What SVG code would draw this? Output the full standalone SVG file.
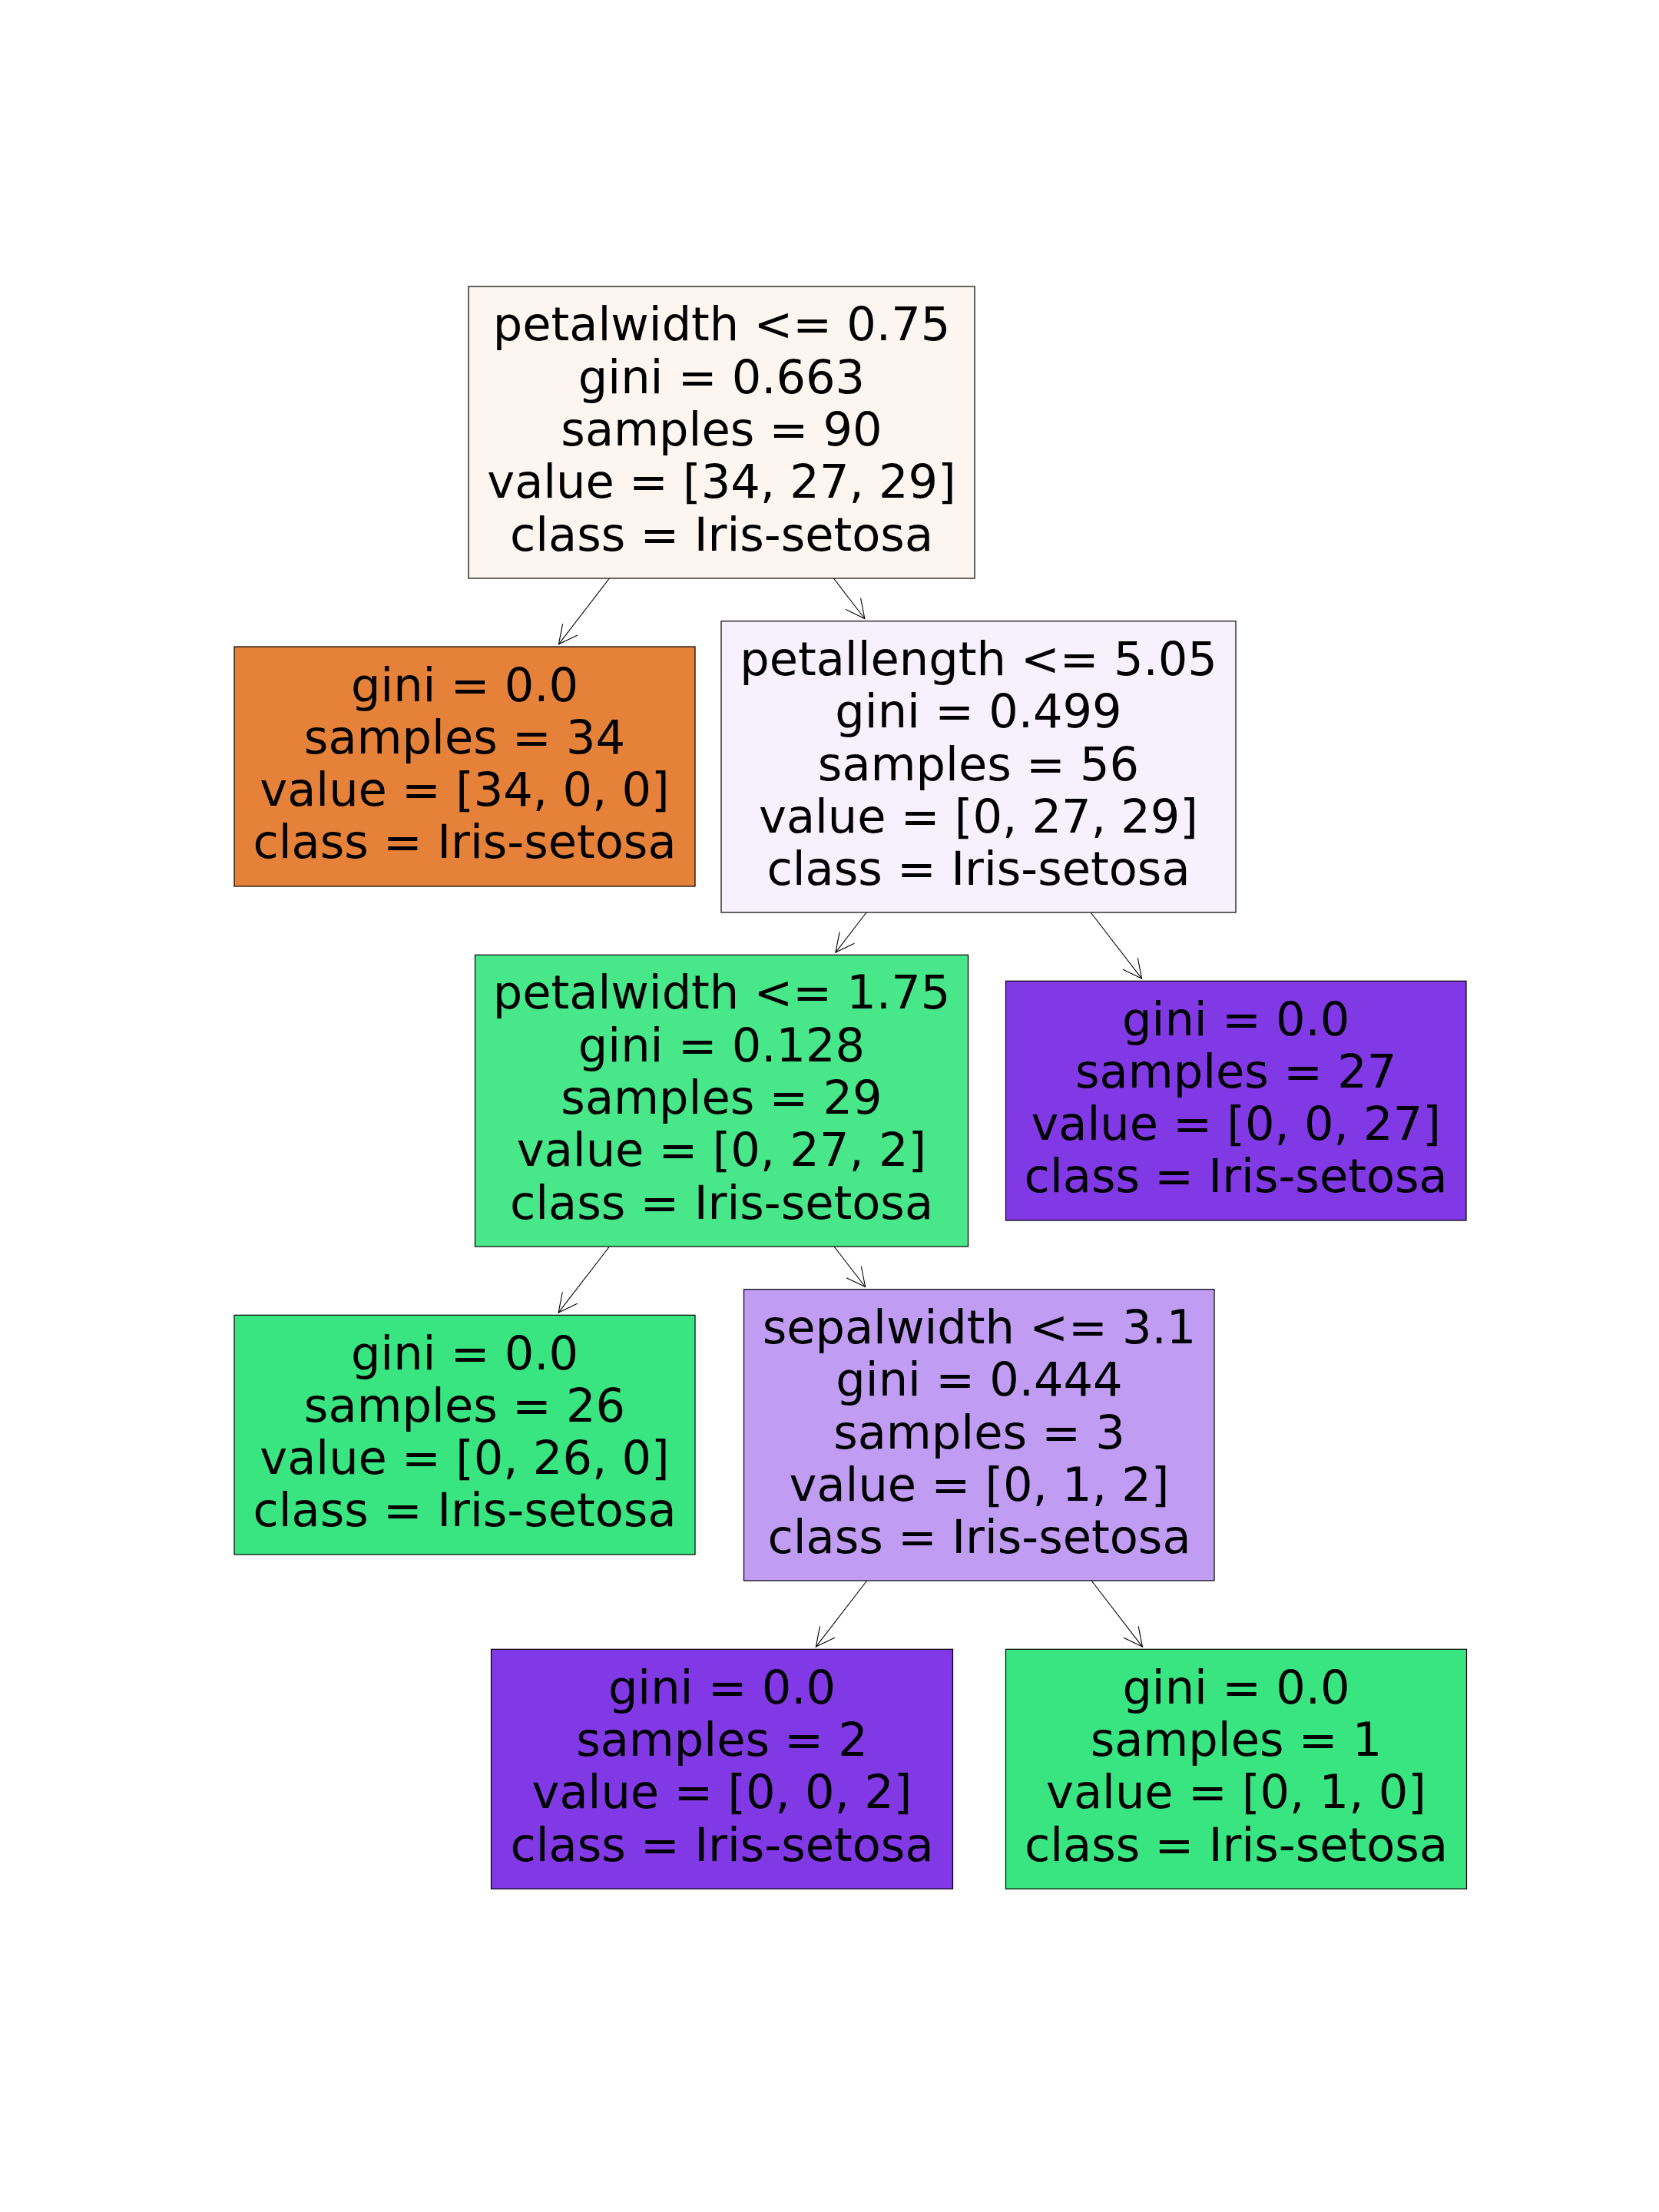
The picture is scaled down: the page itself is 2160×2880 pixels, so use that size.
<svg xmlns="http://www.w3.org/2000/svg" width="2160" height="2880" viewBox="0 0 2160 2880">
<style>
.box{stroke:#000;stroke-width:1.2}
.t{font-family:"DejaVu Sans",Verdana,sans-serif;font-size:60.6px;fill:#000;text-anchor:middle}
.edge{stroke:#000;stroke-width:1.1;fill:none}
</style>
<defs>
<marker id="ah" markerUnits="userSpaceOnUse" orient="auto" markerWidth="40" markerHeight="40" refX="0" refY="0" viewBox="-30 -20 40 40" overflow="visible">
<path d="M -24.4 -12.2 L 0 0 L -24.4 12.2" fill="none" stroke="#000" stroke-width="1.1"/>
</marker>
</defs>
<rect width="2160" height="2880" fill="#fff"/>
<g id="connectors">
<line class="edge" x1="793.4" y1="753" x2="727.4" y2="838.8" marker-end="url(#ah)"/>
<line class="edge" x1="1085.4" y1="753" x2="1125.8" y2="805.5" marker-end="url(#ah)"/>
<line class="edge" x1="1128.1" y1="1188" x2="1087.9" y2="1240.1" marker-end="url(#ah)"/>
<line class="edge" x1="1420.1" y1="1188" x2="1486.6" y2="1274.1" marker-end="url(#ah)"/>
<line class="edge" x1="793.4" y1="1623" x2="727.1" y2="1709.1" marker-end="url(#ah)"/>
<line class="edge" x1="1086" y1="1623" x2="1126.6" y2="1675.5" marker-end="url(#ah)"/>
<line class="edge" x1="1128.7" y1="2058" x2="1062.3" y2="2144.1" marker-end="url(#ah)"/>
<line class="edge" x1="1421.1" y1="2058" x2="1487.4" y2="2144.1" marker-end="url(#ah)"/>
</g>
<g id="node0">
<rect class="box" x="610" y="373" width="659" height="380" fill="#fdf5ef"/>
<text class="t" x="939.5" y="443.4">petalwidth &lt;= 0.75</text>
<text class="t" x="939.5" y="511.7">gini = 0.663</text>
<text class="t" x="939.5" y="580">samples = 90</text>
<text class="t" x="939.5" y="648.3">value = [34, 27, 29]</text>
<text class="t" x="939.5" y="716.6">class = Iris-setosa</text>
</g>
<g id="node1">
<rect class="box" x="305" y="842" width="600" height="312" fill="#e58139"/>
<text class="t" x="605" y="912.5">gini = 0.0</text>
<text class="t" x="605" y="980.8">samples = 34</text>
<text class="t" x="605" y="1049.1">value = [34, 0, 0]</text>
<text class="t" x="605" y="1117.4">class = Iris-setosa</text>
</g>
<g id="node2">
<rect class="box" x="939" y="808.7" width="670" height="379.3" fill="#f6f1fd"/>
<text class="t" x="1274" y="878.9">petallength &lt;= 5.05</text>
<text class="t" x="1274" y="947.2">gini = 0.499</text>
<text class="t" x="1274" y="1015.5">samples = 56</text>
<text class="t" x="1274" y="1083.8">value = [0, 27, 29]</text>
<text class="t" x="1274" y="1152.1">class = Iris-setosa</text>
</g>
<g id="node3">
<rect class="box" x="618.5" y="1243.3" width="642" height="379.7" fill="#48e78a"/>
<text class="t" x="939.5" y="1313.4">petalwidth &lt;= 1.75</text>
<text class="t" x="939.5" y="1381.7">gini = 0.128</text>
<text class="t" x="939.5" y="1450">samples = 29</text>
<text class="t" x="939.5" y="1518.3">value = [0, 27, 2]</text>
<text class="t" x="939.5" y="1586.6">class = Iris-setosa</text>
</g>
<g id="node4">
<rect class="box" x="305" y="1712.3" width="600" height="311.7" fill="#39e581"/>
<text class="t" x="605" y="1782.5">gini = 0.0</text>
<text class="t" x="605" y="1850.8">samples = 26</text>
<text class="t" x="605" y="1919.1">value = [0, 26, 0]</text>
<text class="t" x="605" y="1987.4">class = Iris-setosa</text>
</g>
<g id="node5">
<rect class="box" x="968.5" y="1678.7" width="612.5" height="379.3" fill="#c09cf2"/>
<text class="t" x="1275" y="1748.9">sepalwidth &lt;= 3.1</text>
<text class="t" x="1275" y="1817.2">gini = 0.444</text>
<text class="t" x="1275" y="1885.5">samples = 3</text>
<text class="t" x="1275" y="1953.8">value = [0, 1, 2]</text>
<text class="t" x="1275" y="2022.1">class = Iris-setosa</text>
</g>
<g id="node6">
<rect class="box" x="639.5" y="2147.3" width="601" height="312" fill="#8139e5"/>
<text class="t" x="940" y="2217.8">gini = 0.0</text>
<text class="t" x="940" y="2286.1">samples = 2</text>
<text class="t" x="940" y="2354.4">value = [0, 0, 2]</text>
<text class="t" x="940" y="2422.7">class = Iris-setosa</text>
</g>
<g id="node7">
<rect class="box" x="1309.5" y="2147.3" width="600" height="312" fill="#39e581"/>
<text class="t" x="1609.5" y="2217.8">gini = 0.0</text>
<text class="t" x="1609.5" y="2286.1">samples = 1</text>
<text class="t" x="1609.5" y="2354.4">value = [0, 1, 0]</text>
<text class="t" x="1609.5" y="2422.7">class = Iris-setosa</text>
</g>
<g id="node8">
<rect class="box" x="1309.5" y="1277.3" width="599.5" height="311.7" fill="#8139e5"/>
<text class="t" x="1609.2" y="1347.5">gini = 0.0</text>
<text class="t" x="1609.2" y="1415.8">samples = 27</text>
<text class="t" x="1609.2" y="1484.1">value = [0, 0, 27]</text>
<text class="t" x="1609.2" y="1552.4">class = Iris-setosa</text>
</g>
</svg>
